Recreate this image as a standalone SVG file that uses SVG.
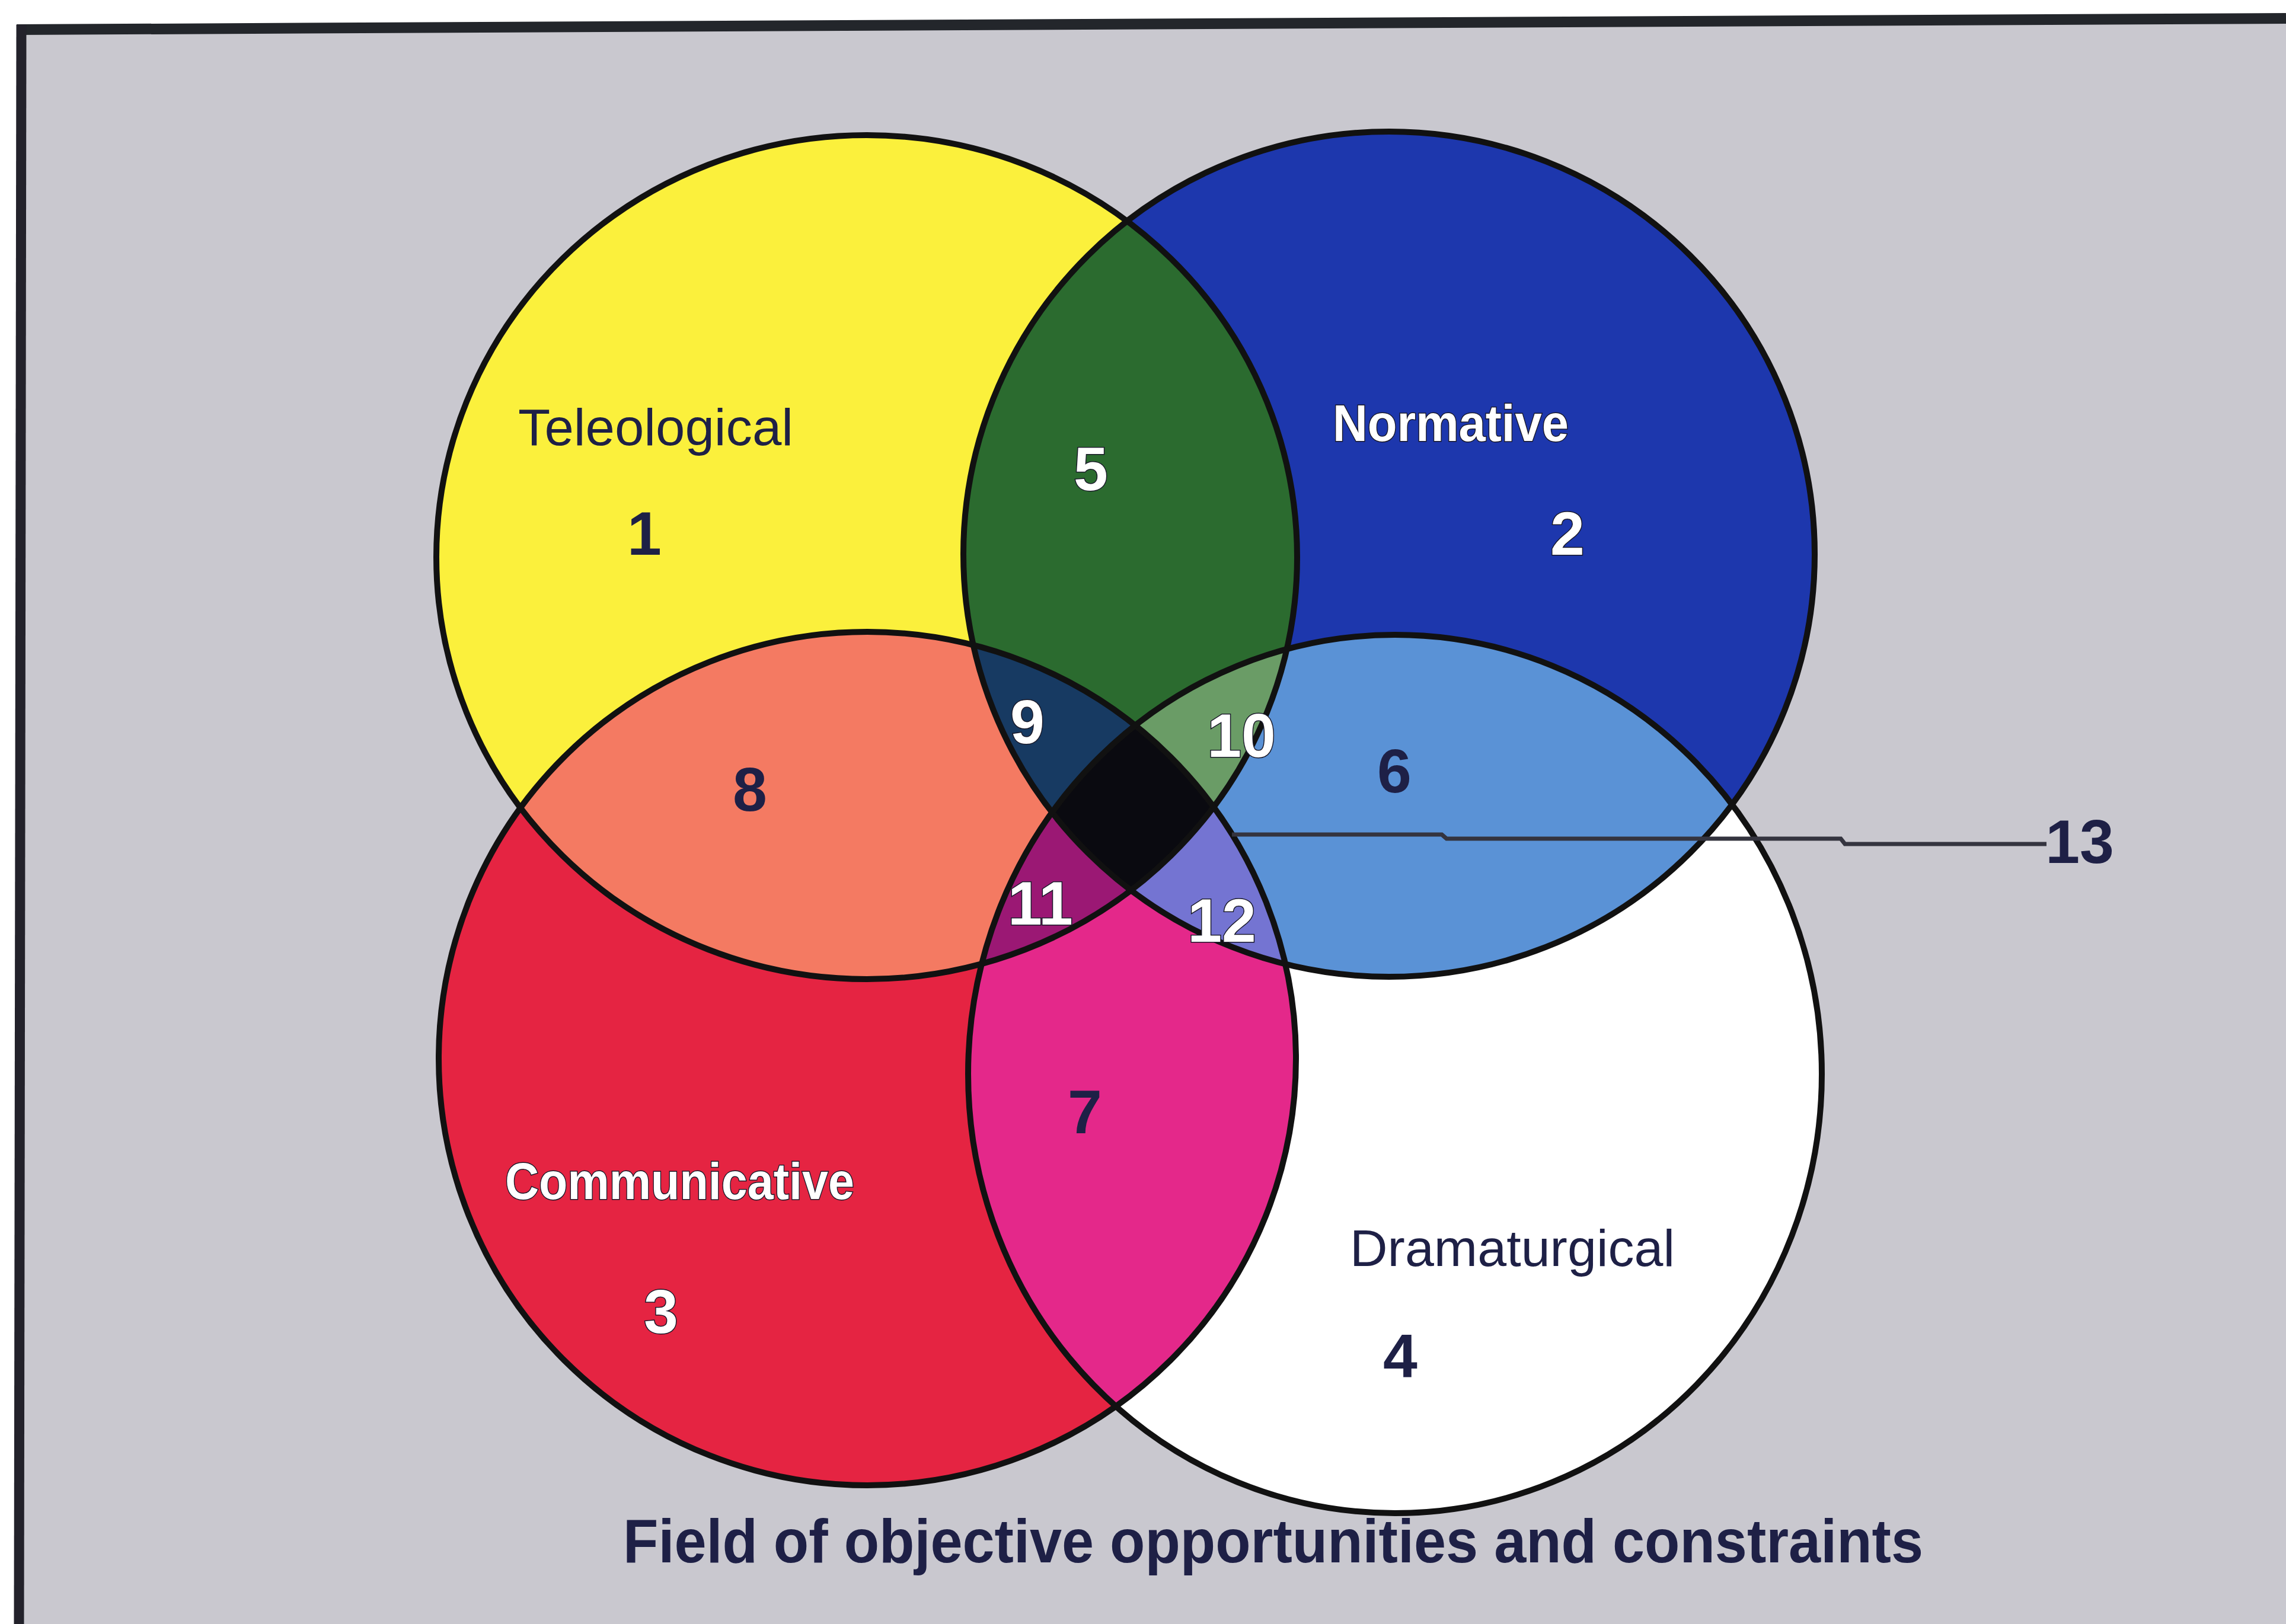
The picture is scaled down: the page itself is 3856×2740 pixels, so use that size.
<svg xmlns="http://www.w3.org/2000/svg" width="3856" height="2740" viewBox="0 0 3856 2740">
<defs>
<style>
.lbl{font-family:"Liberation Sans",Arial,sans-serif;font-size:88px}
.num{font-family:"Liberation Sans",Arial,sans-serif;font-size:104px;font-weight:bold;text-anchor:middle}
.dark{fill:#1e2046}
.light{fill:#ffffff;stroke:#1a1a2a;stroke-width:3;paint-order:stroke}
.edge{fill:none;stroke:#111111;stroke-width:10}
</style>
<clipPath id="cY"><ellipse cx="1462" cy="940" rx="726" ry="712"/></clipPath>
<clipPath id="cB"><ellipse cx="2343" cy="935" rx="718" ry="713"/></clipPath>
<clipPath id="cR"><ellipse cx="1463" cy="1786" rx="723" ry="720"/></clipPath>
<clipPath id="cW"><ellipse cx="2353" cy="1812" rx="720" ry="741"/></clipPath>
</defs>
<rect x="0" y="0" width="3856" height="2740" fill="#ffffff"/>
<polygon points="36,50 3856,30 3856,2740 36,2740" fill="#c9c8cf"/>
<path d="M28,50 L3856,31" stroke="#23262b" stroke-width="18" fill="none"/>
<path d="M36,42 L32,2740" stroke="#23222b" stroke-width="17" fill="none"/>

<g id="teleological">
<ellipse cx="1462" cy="940" rx="726" ry="712" fill="#fbf03c"/>
</g>
<g id="normative">
<ellipse cx="2343" cy="935" rx="718" ry="713" fill="#1d37ad"/>
</g>
<g id="communicative">
<ellipse cx="1463" cy="1786" rx="723" ry="720" fill="#e52442"/>
</g>
<g id="dramaturgical">
<ellipse cx="2353" cy="1812" rx="720" ry="741" fill="#ffffff"/>
</g>

<g id="region5" clip-path="url(#cY)"><ellipse cx="2343" cy="935" rx="718" ry="713" fill="#2b6b2f"/></g>
<g id="region8" clip-path="url(#cY)"><ellipse cx="1463" cy="1786" rx="723" ry="720" fill="#f47a62"/></g>
<g id="region6" clip-path="url(#cB)"><ellipse cx="2353" cy="1812" rx="720" ry="741" fill="#5a92d6"/></g>
<g id="region7" clip-path="url(#cR)"><ellipse cx="2353" cy="1812" rx="720" ry="741" fill="#e4288a"/></g>
<g id="region9" clip-path="url(#cY)"><g clip-path="url(#cB)"><ellipse cx="1463" cy="1786" rx="723" ry="720" fill="#173a62"/></g></g>
<g id="region10" clip-path="url(#cY)"><g clip-path="url(#cB)"><ellipse cx="2353" cy="1812" rx="720" ry="741" fill="#6a9c66"/></g></g>
<g id="region11" clip-path="url(#cY)"><g clip-path="url(#cR)"><ellipse cx="2353" cy="1812" rx="720" ry="741" fill="#9b1874"/></g></g>
<g id="region12" clip-path="url(#cB)"><g clip-path="url(#cR)"><ellipse cx="2353" cy="1812" rx="720" ry="741" fill="#7474d2"/></g></g>
<g id="region13" clip-path="url(#cY)"><g clip-path="url(#cB)"><g clip-path="url(#cR)"><ellipse cx="2353" cy="1812" rx="720" ry="741" fill="#0a0a10"/></g></g></g>

<g id="outlines">
<ellipse class="edge" cx="1462" cy="940" rx="726" ry="712"/>
<ellipse class="edge" cx="2343" cy="935" rx="718" ry="713"/>
<ellipse class="edge" cx="1463" cy="1786" rx="723" ry="720"/>
<ellipse class="edge" cx="2353" cy="1812" rx="720" ry="741"/>
</g>

<g id="connectors">
<path d="M2078,1408 H2432 L2440,1415 H3105 L3112,1424 H3452" fill="none" stroke="#34343f" stroke-width="7"/>
</g>

<g id="labels">
<text class="lbl dark" x="874" y="751" textLength="464" lengthAdjust="spacingAndGlyphs">Teleological</text>
<text class="num dark" x="1087" y="936">1</text>
<text class="lbl light" x="2248" y="744" textLength="398" lengthAdjust="spacingAndGlyphs" font-weight="bold">Normative</text>
<text class="num light" x="2644" y="936">2</text>
<text class="num light" x="1840" y="827">5</text>
<text class="num dark" x="2352" y="1337">6</text>
<text class="num dark" x="1265" y="1368">8</text>
<text class="num light" x="1733" y="1254">9</text>
<text class="num light" x="2094" y="1277">10</text>
<text class="num light" x="1755" y="1560">11</text>
<text class="num light" x="2061" y="1589">12</text>
<text class="num dark" x="1830" y="1912">7</text>
<text class="lbl light" x="852" y="2023" textLength="589" lengthAdjust="spacingAndGlyphs" font-weight="bold">Communicative</text>
<text class="num light" x="1115" y="2249">3</text>
<text class="lbl dark" x="2277" y="2136" textLength="548" lengthAdjust="spacingAndGlyphs">Dramaturgical</text>
<text class="num dark" x="2362" y="2324">4</text>
<text class="num dark" x="3508" y="1456">13</text>
<text class="lbl dark" x="1051" y="2636" font-size="104" font-weight="bold" textLength="2193" lengthAdjust="spacingAndGlyphs" style="font-size:104px">Field of objective opportunities and constraints</text>
</g>
</svg>
